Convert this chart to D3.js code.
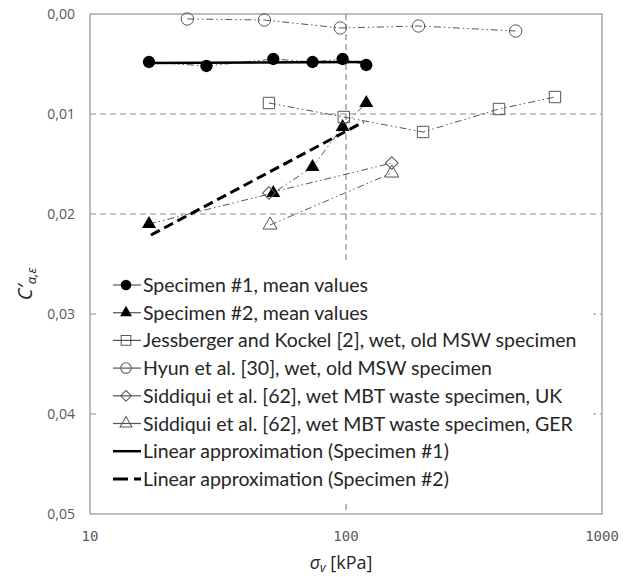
<!DOCTYPE html>
<html>
<head>
<meta charset="utf-8">
<script src="https://cdn.jsdelivr.net/npm/d3@7"></script>
<style>
  body { margin: 0; background: #fff; }
  svg { display: block; }
</style>
</head>
<body>
<script>
// data (sigma_v in kPa, C'alpha,eps)
const spec1X = [17, 28.5, 52, 74, 97, 120];
const spec1Y = [0.0048, 0.0052, 0.0045, 0.0048, 0.0045, 0.0051];
const spec2X = [17, 52, 74, 97, 120];
const spec2Y = [0.0210, 0.0179, 0.0153, 0.0113, 0.0089];
const jessX = [50, 98, 200, 396, 655];
const jessY = [0.0089, 0.0103, 0.0118, 0.0095, 0.0083];
const hyunX = [24, 48, 95, 192, 460];
const hyunY = [0.0005, 0.0006, 0.0014, 0.0012, 0.0017];
const siddUkX = [50, 151];
const siddUkY = [0.0179, 0.0149];
const siddGerX = [50.5, 151];
const siddGerY = [0.0211, 0.0159];
const approx1X = [17, 120];
const approx1Y = [0.0049, 0.0048];
const approx2X = [17.3, 117];
const approx2Y = [0.0221, 0.0108];

const legendLabels = [
  "Specimen #1, mean values",
  "Specimen #2, mean values",
  "Jessberger and Kockel [2], wet, old MSW specimen",
  "Hyun et al. [30], wet, old MSW specimen",
  "Siddiqui et al. [62], wet MBT waste specimen, UK",
  "Siddiqui et al. [62], wet MBT waste specimen, GER",
  "Linear approximation (Specimen #1)",
  "Linear approximation (Specimen #2)"
];
const xTicks = [10, 100, 1000];
const yTicks = [0, 0.01, 0.02, 0.03, 0.04, 0.05];

const W = 632, H = 577;
const svg = d3.select("body").append("svg")
  .attr("width", W).attr("height", H);

const x = d3.scaleLog().domain([10, 1000]).range([90, 602]);
const y = d3.scaleLinear().domain([0, 0.05]).range([14, 514]);

const grid = "#8c8c8c";
const seriesDash = "7,3,1.5,3,1.5,3";

// gridlines
svg.append("g").selectAll("line")
  .data(yTicks.slice(1, -1))
  .join("line")
  .attr("x1", x(10)).attr("x2", x(1000))
  .attr("y1", d => y(d)).attr("y2", d => y(d))
  .attr("stroke", grid).attr("stroke-width", 1.2)
  .attr("stroke-dasharray", "6,4");
svg.append("line")
  .attr("x1", x(100)).attr("x2", x(100))
  .attr("y1", y(0)).attr("y2", y(0.05))
  .attr("stroke", grid).attr("stroke-width", 1.2)
  .attr("stroke-dasharray", "6,4");

// frame
svg.append("rect")
  .attr("x", x(10)).attr("y", y(0))
  .attr("width", x(1000) - x(10)).attr("height", y(0.05) - y(0))
  .attr("fill", "none").attr("stroke", "#9a9a9a").attr("stroke-width", 1.3);

// tick labels
svg.append("g").selectAll("text")
  .data(yTicks)
  .join("text")
  .attr("x", 75).attr("y", d => y(d) + 5)
  .attr("text-anchor", "end")
  .attr("font-family", "'Open Sans', sans-serif")
  .attr("font-size", 14).attr("fill", "#595959")
  .text(d => d3.format(".2f")(d).replace(".", ","));

svg.append("g").selectAll("text")
  .data(xTicks)
  .join("text")
  .attr("x", d => x(d)).attr("y", 541)
  .attr("text-anchor", "middle")
  .attr("font-family", "'DejaVu Sans Mono', monospace")
  .attr("font-size", 14).attr("fill", "#595959")
  .text(d => d);

// axis titles
const xt = svg.append("text")
  .attr("x", 341).attr("y", 569)
  .attr("text-anchor", "middle")
  .attr("font-family", "'Open Sans', sans-serif")
  .attr("font-size", 18).attr("fill", "#262626");
xt.append("tspan").attr("font-style", "italic").text("σ");
xt.append("tspan").attr("font-style", "italic").attr("font-size", 12).attr("dy", 3).text("v");
xt.append("tspan").attr("dy", -3).text(" [kPa]");

const yt = svg.append("text")
  .attr("transform", "translate(32,284) rotate(-90)")
  .attr("text-anchor", "middle")
  .attr("font-family", "'Open Sans', sans-serif")
  .attr("font-size", 20).attr("fill", "#262626");
yt.append("tspan").attr("font-style", "italic").text("C′");
yt.append("tspan").attr("font-style", "italic").attr("font-size", 13).attr("dy", 4).text("α,ε");

// markers
const sym = {
  circle: d3.symbol(d3.symbolCircle, 120),
  triangle: d3.symbol(d3.symbolTriangle, 85),
  square: d3.symbol(d3.symbolSquare, 130),
  diamond: d3.symbol(d3.symbolSquare, 80),
  ocircle: d3.symbol(d3.symbolCircle, 120)
};

const series = [
  { xs: spec1X, ys: spec1Y, shape: "circle", fill: "#000", stroke: "#000" },
  { xs: spec2X, ys: spec2Y, shape: "triangle", fill: "#000", stroke: "#000" },
  { xs: jessX, ys: jessY, shape: "square", fill: "none", stroke: "#555" },
  { xs: hyunX, ys: hyunY, shape: "ocircle", fill: "none", stroke: "#555" },
  { xs: siddUkX, ys: siddUkY, shape: "diamond", fill: "none", stroke: "#555" },
  { xs: siddGerX, ys: siddGerY, shape: "triangle", fill: "none", stroke: "#555" }
];

const line = d3.line().x(d => x(d[0])).y(d => y(d[1]));

series.forEach(s => {
  const pts = s.xs.map((v, i) => [v, s.ys[i]]);
  svg.append("path")
    .attr("d", line(pts))
    .attr("fill", "none").attr("stroke", "#555").attr("stroke-width", 1)
    .attr("stroke-dasharray", seriesDash);
});

// linear approximations
svg.append("path")
  .attr("d", line(approx1X.map((v, i) => [v, approx1Y[i]])))
  .attr("fill", "none").attr("stroke", "#000").attr("stroke-width", 2.5);
svg.append("path")
  .attr("d", line(approx2X.map((v, i) => [v, approx2Y[i]])))
  .attr("fill", "none").attr("stroke", "#000").attr("stroke-width", 3)
  .attr("stroke-dasharray", "10,5");

function drawMarker(g, s, px, py, scale) {
  const rot = s.shape === "diamond" ? " rotate(45)" : "";
  g.append("path")
    .attr("d", sym[s.shape]())
    .attr("transform", `translate(${px},${py}) scale(${scale})${rot}`)
    .attr("fill", s.fill).attr("stroke", s.stroke)
    .attr("stroke-width", s.fill === "none" ? 1 / scale : 0);
}

series.forEach(s => {
  const g = svg.append("g");
  s.xs.forEach((v, i) => drawMarker(g, s, x(v), y(s.ys[i]), 1));
});

// legend
const lg = svg.append("g");
lg.append("rect")
  .attr("x", 99).attr("y", 262).attr("width", 494).attr("height", 238)
  .attr("fill", "#fff");

const rowY = d3.range(legendLabels.length).map(i => 285 + i * 27.7);
legendLabels.forEach((label, i) => {
  const yy = rowY[i];
  if (i < 6) {
    lg.append("line").attr("x1", 113).attr("x2", 141)
      .attr("y1", yy).attr("y2", yy)
      .attr("stroke", "#555").attr("stroke-width", 1.2);
    drawMarker(lg, series[i], 126, yy, 0.85);
  } else if (i === 6) {
    lg.append("line").attr("x1", 113).attr("x2", 141)
      .attr("y1", yy).attr("y2", yy)
      .attr("stroke", "#000").attr("stroke-width", 2.5);
  } else {
    lg.append("line").attr("x1", 113).attr("x2", 141)
      .attr("y1", yy).attr("y2", yy)
      .attr("stroke", "#000").attr("stroke-width", 3)
      .attr("stroke-dasharray", "15,6");
  }
  lg.append("text")
    .attr("x", 143).attr("y", yy + 7)
    .attr("font-family", "Lato, sans-serif")
    .attr("font-size", 19.5).attr("fill", "#262626")
    .text(label);
});
</script>
</body>
</html>
